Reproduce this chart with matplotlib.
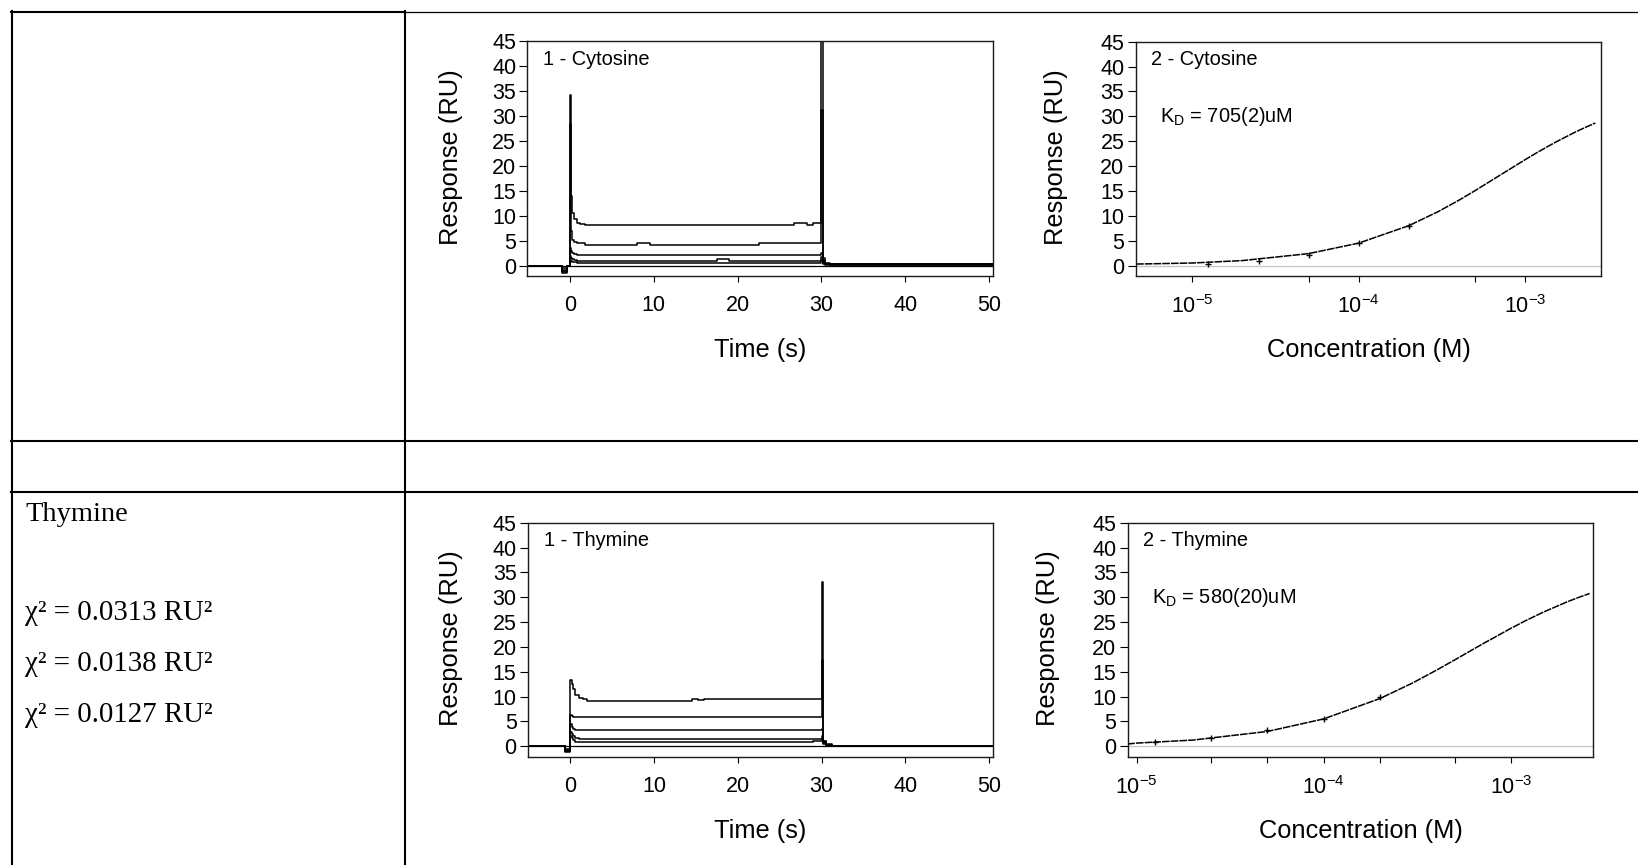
import matplotlib
matplotlib.use("Agg")
import matplotlib.pyplot as plt
from matplotlib.lines import Line2D

W, H = 1638, 865

SANS = "Liberation Sans"
SERIF = "Liberation Serif"

plt.rcParams["font.family"] = [SANS, "DejaVu Sans"]
plt.rcParams["mathtext.fontset"] = "custom"
plt.rcParams["mathtext.rm"] = SANS

# --- sensorgrams (time in s, response in RU), stepwise export ---
cyt_time = [-5.1, -1.0, -0.4, 0.0, 0.1, 0.25, 0.5, 0.8, 1.2, 1.8, 8.0, 9.5,
            17.5, 19.0, 22.5, 26.7, 28.3, 29.0, 30.0, 30.15, 30.4, 31.0, 50.5]
cyt_r1 = [0, -1.2, 0, 34.2, 14.0, 10.5, 9.3, 8.6, 8.3, 8.1, 8.1, 8.1,
          8.1, 8.1, 8.1, 8.6, 8.2, 8.5, 46.0, 1.5, 0.5, 0.3, 0.3]
cyt_r2 = [0, -0.8, 0, 28.4, 7.0, 5.2, 4.8, 4.6, 4.6, 4.2, 4.6, 4.2,
          4.2, 4.2, 4.6, 4.6, 4.6, 4.6, 31.2, 1.2, 0.4, 0.3, 0.3]
cyt_r3 = [0, -1.5, 0, 3.5, 3.0, 2.6, 2.3, 2.2, 2.1, 2.1, 2.1, 2.1,
          2.1, 2.1, 2.1, 2.1, 2.1, 2.1, 2.5, 0.8, 0.3, 0.3, 0.3]
cyt_r4 = [0, -1.0, 0, 2.0, 1.6, 1.3, 1.1, 1.0, 1.0, 1.0, 1.0, 1.0,
          1.4, 1.0, 1.0, 1.0, 1.0, 1.0, 1.8, 0.6, 0.3, 0.2, 0.2]
cyt_r5 = [0, -0.5, 0, 1.2, 1.0, 0.8, 0.7, 0.6, 0.6, 0.6, 0.6, 0.6,
          0.6, 0.6, 0.6, 0.6, 0.6, 0.6, 1.2, 0.4, 0.2, 0.2, 0.2]

thy_time = [-5.1, -0.6, -0.1, 0.0, 0.15, 0.3, 0.6, 1.0, 1.5, 2.0, 14.5, 15.2,
            16.0, 29.0, 30.0, 30.15, 30.5, 31.2, 50.5]
thy_r1 = [0, -1.0, 0, 13.4, 12.6, 11.5, 10.3, 9.8, 9.5, 9.2, 9.6, 9.3,
          9.6, 9.6, 33.1, 1.0, 0.5, 0.0, 0.0]
thy_r2 = [0, -0.8, 0, 6.2, 6.0, 5.9, 5.9, 5.9, 5.9, 5.9, 5.9, 5.9,
          5.9, 5.9, 17.4, 0.8, 0.3, 0.0, 0.0]
thy_r3 = [0, -1.2, 0, 4.5, 3.8, 3.4, 3.2, 3.2, 3.2, 3.2, 3.2, 3.2,
          3.2, 3.2, 3.5, 0.6, 0.2, 0.0, 0.0]
thy_r4 = [0, -1.0, 0, 2.8, 2.4, 2.0, 1.7, 1.5, 1.5, 1.5, 1.5, 1.5,
          1.5, 1.5, 2.0, 1.0, 0.3, 0.0, 0.0]
thy_r5 = [0, -0.6, 0, 2.0, 1.6, 1.2, 0.9, 0.8, 0.8, 0.8, 0.8, 0.8,
          0.8, 1.1, 1.5, 0.5, 0.2, 0.0, 0.0]

# --- steady-state responses and 1:1 fit lines ---
cyt_conc = [1.25e-5, 2.5e-5, 5e-5, 1e-4, 2e-4]
cyt_eq = [0.3, 1.0, 2.1, 4.5, 8.0]
cyt_fit_conc = [4.6e-6, 1e-5, 2e-5, 5e-5, 1e-4, 2e-4, 3e-4, 4e-4, 5e-4,
                7e-4, 1e-3, 1.2e-3, 1.5e-3, 2e-3, 2.3e-3, 2.64e-3]
cyt_fit = [0.30, 0.51, 1.00, 2.40, 4.51, 8.02, 10.84, 13.14, 15.06,
           18.09, 21.29, 22.87, 24.69, 26.84, 27.78, 28.65]

thy_conc = [1.25e-5, 2.5e-5, 5e-5, 1e-4, 2e-4]
thy_eq = [0.9, 1.7, 3.3, 5.5, 9.9]
thy_fit_conc = [8.9e-6, 1e-5, 2e-5, 5e-5, 1e-4, 2e-4, 3e-4, 4e-4, 5e-4,
                7e-4, 1e-3, 1.2e-3, 1.5e-3, 2e-3, 2.3e-3, 2.64e-3]
thy_fit = [0.45, 0.64, 1.25, 2.98, 5.51, 9.62, 12.78, 15.31, 17.36,
           20.51, 23.73, 25.28, 27.04, 29.07, 29.95, 30.75]

chi_values = ["0.0313", "0.0138", "0.0127"]


def px_axes(fig, left, top, right, bottom):
    return fig.add_axes([left / W, 1 - bottom / H, (right - left) / W, (bottom - top) / H])


def style_axes(ax):
    for s in ax.spines.values():
        s.set_linewidth(1.0)
        s.set_color("#1a1a1a")
    ax.tick_params(axis="y", direction="out", length=5.5, width=0.8, pad=2.5,
                   labelsize=15.5)
    ax.tick_params(axis="x", which="both", direction="out", length=4, width=0.8,
                   pad=10, labelsize=15.5)
    ax.set_ylim(-2.1, 45)
    ax.set_yticks(range(0, 46, 5))


def sensorgram(ax, t, curves, title):
    style_axes(ax)
    ax.axhline(0, color="black", lw=0.9)
    for r in curves:
        ax.plot(t, r, color="black", lw=1.1, drawstyle="steps-post")
    ax.set_xlim(-5.1, 50.5)
    ax.set_xticks(range(0, 51, 10))
    ax.text(0.034, 0.922, title, transform=ax.transAxes, fontsize=14.4, va="center")


def isotherm(ax, conc, eq, fit_conc, fit, xlim, minor, title, kd):
    style_axes(ax)
    ax.set_xscale("log")
    ax.axhline(0, color="#c8c8c8", lw=1.0)
    ax.plot(fit_conc, fit, color="black", lw=1.1, dashes=(5, 0.7))
    ax.plot(conc, eq, ls="none", marker="+", ms=5, mew=1.0, color="black")
    ax.set_xlim(*xlim)
    ax.set_xticks([1e-5, 1e-4, 1e-3])
    ax.set_xticklabels([r"$\mathregular{10^{-5}}$", r"$\mathregular{10^{-4}}$",
                        r"$\mathregular{10^{-3}}$"])
    ax.set_xticks(minor, minor=True)
    ax.set_xticklabels([], minor=True)
    ax.tick_params(axis="x", which="minor", length=4, width=0.8)
    ax.text(0.034, 0.922, title, transform=ax.transAxes, fontsize=14.4, va="center")
    ax.text(0.052, 0.682, kd, transform=ax.transAxes, fontsize=14.4, va="center")


fig = plt.figure(figsize=(W / 100, H / 100), dpi=100)
fig.patch.set_facecolor("white")

# table grid
def hline(y, x0, x1, lw):
    fig.add_artist(Line2D([x0 / W, x1 / W], [1 - y / H, 1 - y / H], color="black",
                          lw=lw, transform=fig.transFigure))

def vline(x, y0, y1, lw):
    fig.add_artist(Line2D([x / W, x / W], [1 - y0 / H, 1 - y1 / H], color="black",
                          lw=lw, transform=fig.transFigure))

hline(12, 11, 405, 1.5)
hline(12, 405, W, 0.9)
hline(441, 11, W, 1.5)
hline(492, 11, W, 1.5)
vline(12, 11, H, 1.5)
vline(405, 11, H, 1.5)

ax1 = px_axes(fig, 527.3, 41, 993.1, 276)
sensorgram(ax1, cyt_time, [cyt_r1, cyt_r2, cyt_r3, cyt_r4, cyt_r5], "1 - Cytosine")
ax2 = px_axes(fig, 1135.5, 41.7, 1601.4, 276)
isotherm(ax2, cyt_conc, cyt_eq, cyt_fit_conc, cyt_fit, (4.56e-6, 2.87e-3),
         [5e-5, 5e-4], "2 - Cytosine", r"$\mathregular{K_D}$ = 705(2)uM")
ax3 = px_axes(fig, 527.7, 522.7, 993.1, 756.7)
sensorgram(ax3, thy_time, [thy_r1, thy_r2, thy_r3, thy_r4, thy_r5], "1 - Thymine")
ax4 = px_axes(fig, 1127.6, 522.7, 1592.7, 756.7)
isotherm(ax4, thy_conc, thy_eq, thy_fit_conc, thy_fit, (8.94e-6, 2.74e-3),
         [2.5e-5, 5e-5, 2e-4, 5e-4], "2 - Thymine", r"$\mathregular{K_D}$ = 580(20)uM")

# axis labels placed by pixel position
def ftext(x, y, s, **kw):
    fig.text(x / W, 1 - y / H, s, **kw)

for x, y in [(450.5, 157), (1056.3, 157), (450.5, 638), (1048.4, 638)]:
    ftext(x, y, "Response (RU)", rotation=90, ha="center", va="center", fontsize=18.4)
ftext(760.6, 350, "Time (s)", ha="center", va="center", fontsize=18.3)
ftext(1368.8, 350, "Concentration (M)", ha="center", va="center", fontsize=18.3)
ftext(760.6, 831, "Time (s)", ha="center", va="center", fontsize=18.3)
ftext(1361, 831, "Concentration (M)", ha="center", va="center", fontsize=18.3)

# left column
ftext(25, 521, "Thymine", family=SERIF, fontsize=20.5, va="baseline")
for i, v in enumerate(chi_values):
    ftext(25, 620 + 51 * i, "\u03c7\u00b2 = " + v + " RU\u00b2",
          family=SERIF, fontsize=20.8, va="baseline")

fig.savefig("out.png", dpi=100)
